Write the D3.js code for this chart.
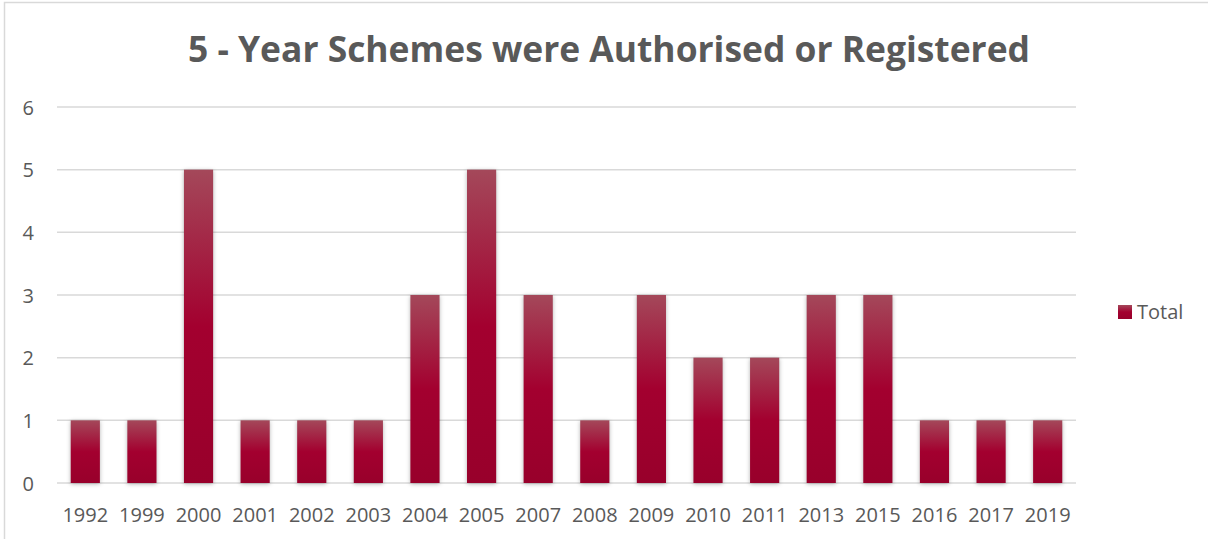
<!DOCTYPE html>
<html><head><meta charset="utf-8">
<script src="https://cdn.jsdelivr.net/npm/d3@7"></script>
<style>html,body{margin:0;padding:0;background:#fff;overflow:hidden}</style>
</head><body>
<svg id="c" width="1208" height="539"></svg>
<script>
const categories = ["1992","1999","2000","2001","2002","2003","2004","2005","2007","2008","2009","2010","2011","2013","2015","2016","2017","2019"];
const totals = [1,1,5,1,1,1,3,5,3,1,3,2,2,3,3,1,1,1];
const yTicks = [0,1,2,3,4,5,6];
const seriesName = "Total";
const titleText = "5 - Year Schemes were Authorised or Registered";

const svg = d3.select("#c");
const W = 1208, H = 539;
const m = {left:57, right:1076, top:107, bottom:483};
const txt = "#595959";
const font = "'Open Sans', 'Noto Sans', sans-serif";

const defs = svg.append("defs");
const g = defs.append("linearGradient").attr("id","bg").attr("x1",0).attr("y1",0).attr("x2",0).attr("y2",1);
g.append("stop").attr("offset","0%").attr("stop-color","#a4485a");
g.append("stop").attr("offset","50%").attr("stop-color","#a3002f");
g.append("stop").attr("offset","100%").attr("stop-color","#98002b");
const f = defs.append("filter").attr("id","blur").attr("x","-50%").attr("y","-20%").attr("width","200%").attr("height","140%");
f.append("feGaussianBlur").attr("stdDeviation",2.2);

// chart border
svg.append("rect").attr("x",4.5).attr("y",2.5).attr("width",W+20).attr("height",H+20)
  .attr("fill","#fff").attr("stroke","#d9d9d9").attr("stroke-width",1.5);

const x = d3.scaleBand().domain(categories).range([m.left, m.right]).paddingInner(0.485).paddingOuter(0.2425);
const y = d3.scaleLinear().domain([0,6]).range([m.bottom, m.top]);

// gridlines
svg.append("g").selectAll("line").data(yTicks).join("line")
  .attr("x1",m.left).attr("x2",m.right)
  .attr("y1",d=>y(d)).attr("y2",d=>y(d))
  .attr("stroke","#d9d9d9").attr("stroke-width",1.5);

// y axis labels
const yAxis = d3.axisLeft(y).tickValues(yTicks).tickSize(0).tickPadding(0).tickFormat(d3.format("d"));
const ya = svg.append("g").attr("transform","translate(34,0)").call(yAxis);
ya.select(".domain").remove();
ya.selectAll("text").attr("font-family",font).attr("font-size",20).attr("fill",txt).attr("dy","0.35em");

// bar shadows
svg.append("g").attr("filter","url(#blur)").selectAll("rect").data(categories).join("rect")
  .attr("x",d=>x(d)).attr("width",x.bandwidth())
  .attr("y",(d,i)=>y(totals[i])+1).attr("height",(d,i)=>y(0)-y(totals[i]))
  .attr("fill","#000").attr("opacity",0.3);

// bars
svg.append("g").selectAll("rect").data(categories).join("rect")
  .attr("x",d=>x(d)).attr("width",x.bandwidth())
  .attr("y",(d,i)=>y(totals[i])).attr("height",(d,i)=>y(0)-y(totals[i]))
  .attr("fill","url(#bg)");

// x axis labels
const xAxis = d3.axisBottom(x).tickSize(0).tickPadding(0);
const xa = svg.append("g").attr("transform","translate(0,"+(m.bottom+39)+")").call(xAxis);
xa.select(".domain").remove();
xa.selectAll("text").attr("font-family",font).attr("font-size",20).attr("fill",txt).attr("dy",0);

// title
const t = svg.append("text").attr("x",609).attr("y",62).attr("text-anchor","middle")
  .attr("font-family",font).attr("font-weight","bold").attr("font-size",36).attr("fill",txt).text(titleText);
const tw = t.node().getComputedTextLength();
if (Math.abs(tw-842) > 4) t.attr("textLength",842).attr("lengthAdjust","spacingAndGlyphs");

// legend
const lg = svg.append("g").attr("transform","translate(1118,305)");
lg.append("rect").attr("width",14).attr("height",14).attr("fill","url(#bg)");
lg.append("text").attr("x",19).attr("y",14).attr("font-family",font).attr("font-size",20).attr("fill",txt).text(seriesName);
</script>
</body></html>
